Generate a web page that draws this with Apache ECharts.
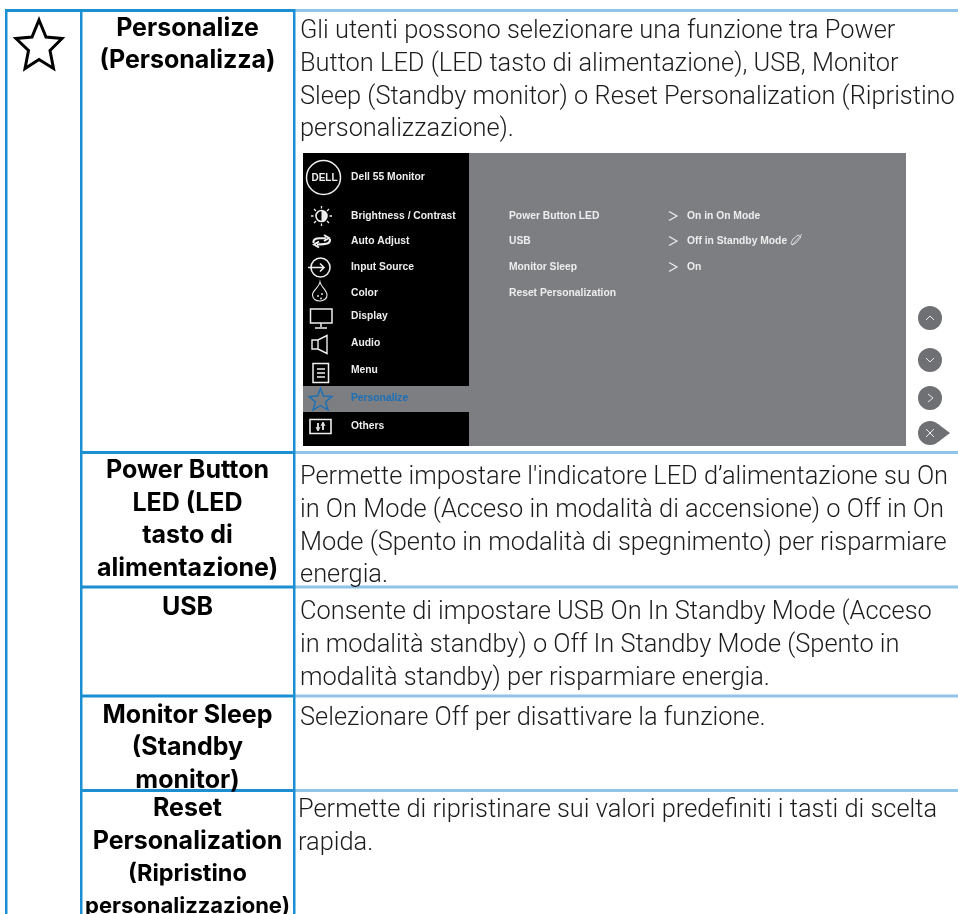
<!DOCTYPE html>
<html><head><meta charset="utf-8"><style>html,body{margin:0;padding:0;background:#fff}#c{width:958px;height:914px}</style>
<script src="https://cdn.jsdelivr.net/npm/echarts@6/dist/echarts.min.js"></script></head>
<body><div id="c"></div>
<script>
const headLabels = [
 ['Personalize','(Personalizza)'],
 ['Power Button','LED (LED','tasto di','alimentazione)'],
 ['USB'],
 ['Monitor Sleep','(Standby','monitor)'],
 ['Reset','Personalization','(Ripristino','personalizzazione)']
];
const headTops = [28,470.5,607,715,808.5];
const bodyLines = [
 ['Gli utenti possono selezionare una funzione tra Power','Button LED (LED tasto di alimentazione), USB, Monitor','Sleep (Standby monitor) o Reset Personalization (Ripristino','personalizzazione).'],
 ["Permette impostare l'indicatore LED d’alimentazione su On",'in On Mode (Acceso in modalità di accensione) o Off in On','Mode (Spento in modalità di spegnimento) per risparmiare','energia.'],
 ['Consente di impostare USB On In Standby Mode (Acceso','in modalità standby) o Off In Standby Mode (Spento in','modalità standby) per risparmiare energia.'],
 ['Selezionare Off per disattivare la funzione.'],
 ['Permette di ripristinare sui valori predefiniti i tasti di scelta','rapida.']
];
const bodyTops = [32,478,613,719,811];
const rowLines = [452.5,587,696,790.5];
const menuLabels = ['Dell 55 Monitor','Brightness / Contrast','Auto Adjust','Input Source','Color','Display','Audio','Menu','Personalize','Others'];
const menuY = [177,216,241,267,293,316,343,370,398,426];
const subLabels = ['Power Button LED','USB','Monitor Sleep','Reset Personalization'];
const subY = [216,241,267,293];
const subValues = ['On in On Mode','Off in Standby Mode','On'];

const BLUE='#1b8fd2', LIGHT='#8fc4e8', W='#eeeeee';
const g=[];
const rect=(x,y,w,h,fill)=>g.push({type:'rect',shape:{x,y,width:w,height:h},style:{fill}});
const text=(x,y,t,font,fill,align)=>g.push({type:'text',x,y,style:{text:t,font,fill,align:align||'left',verticalAlign:'middle'}});
const path=(d,stroke,lw,fill)=>g.push({type:'path',shape:{pathData:d},style:{stroke,lineWidth:lw,fill:fill||'none',lineJoin:'miter'}});
const circle=(cx,cy,r,fill,stroke,lw)=>g.push({type:'circle',shape:{cx,cy,r},style:{fill:fill||'none',stroke:stroke||'none',lineWidth:lw||0}});

// table grid
rowLines.forEach(y=>{rect(294,y-1.5,664,3,LIGHT);rect(81,y-1.5,213,3,BLUE);});
rect(5,9,954,3,LIGHT);
rect(5,9,290,3,BLUE);
rect(5,9,2.5,905,BLUE);
rect(80,9,2.5,905,BLUE);
rect(293,9,2.5,905,BLUE);

// big star
path('M39 20 L46 37 L62 38.5 L50 50.5 L53.5 68.5 L39 59.5 L25 68.5 L28.5 50.5 L16 38.5 L32 37 Z','#000',3);

const headFont=(i,j)=>(i==4&&j==3)?'700 22px Inter':(i==4&&j==2)?'700 23.5px Inter':'700 25px Inter';
headLabels.forEach((ls,i)=>ls.forEach((t,j)=>text(187.5,headTops[i]+j*32.6,t,headFont(i,j),'#000','center')));
bodyLines.forEach((ls,i)=>ls.forEach((t,j)=>text(i==4?298:300,bodyTops[i]+j*32.6,t,'300 25.4px Roboto','#1c1c1c')));

// OSD
rect(303,153,166,293,'#000');
rect(469,153,437,293,'#7d7e82');
rect(303,386,166,26,'#7d7e82');
circle(323.5,177.5,17,null,W,1.5);
text(324.5,178,'DELL','bold 10px "Liberation Sans"',W,'center');
const F='bold 10.3px "Liberation Sans"';
menuLabels.forEach((t,i)=>text(351,menuY[i],t,F,i==8?'#1a70b8':W));
subLabels.forEach((t,i)=>text(509,subY[i],t,F,W));
subValues.forEach((t,i)=>{text(687,subY[i],t,F,W);path(`M669 ${subY[i]-4.5} L677 ${subY[i]} L669 ${subY[i]+4.5}`,W,1.2);});
// pencil
path('M791 243 L793 239 L798 235 L801 237 L796 243 L792 245 Z M792 245 L802 234',W,0.8);
// menu icons
circle(321.5,216,5.5,null,W,1.6);
path('M321.5 210.5 A5.5 5.5 0 0 1 321.5 221.5 Z',W,0,W);
path('M321.5 206 V208.5 M321.5 223.5 V226 M311 216 H313.5 M329.5 216 H332 M314 209 L316 211 M327 221 L329 223 M329 209 L327 211 M316 221 L314 223',W,1.3);
path('M313.5 243 C313 239 315 238 326 238 M324 235 L329 238 L324 241 M330 239 C330.5 243 328 244.5 317 244.5 M319 241.5 L314 244.5 L319 247.5',W,2);
circle(320.5,267.5,9.5,null,W,1.6);
path('M308 267.5 H323 M320 263.5 L324 267.5 L320 271.5',W,1.6);
path('M320 282 C321 287 327 290 327 295 C327.5 302 313 304 312.5 295 C312.5 290 319 288 320 282 Z',W,1.1);
circle(318,296,0.9,W);circle(322,294,0.9,W);circle(321,298.5,0.9,W);
path('M310.5 309 H332 V323 H310.5 Z',W,1.5);
path('M321 323 V327 M315 328 H327',W,1.5);
path('M312 340 H318 L327 335.5 V353.5 L318 349 H312 Z M318 340 V349',W,1.4);
path('M313 363.5 H328.5 V382.5 H313 Z M317 369 H325 M317 373 H325 M317 377 H325',W,1.5);
path('M320.5 388.5 L323.5 396 L332 396.5 L325.5 402 L328 410 L320.5 405.5 L313 410 L315.5 402 L309 396.5 L317.5 396 Z','#1a70b8',1.4);
path('M310 419.5 H331 V433.5 H310 Z',W,1.6);
path('M318 423 V430 M323 423 V430',W,1.8);
path('M316 427 L318 431 L320 427 M321 426 L323 422 L325 426',W,1);
// buttons
const btnY=[318,360,398,433];
btnY.forEach(y=>circle(930,y,12,'#6f7073'));
path('M938 424 L950 433 L938 442 Z','#6f7073',0,'#6f7073');
path('M926 320 L930 316 L934 320',W,1);
path('M926 358 L930 362 L934 358',W,1);
path('M928 394 L933 398 L928 402',W,1);
path('M926 429 L934 437 M934 429 L926 437',W,1);

const chart=echarts.init(document.getElementById('c'),null,{renderer:'canvas',width:958,height:914});
chart.setOption({animation:false,series:[{type:'custom',coordinateSystem:'none',silent:true,data:[[0]],clip:false,renderItem:()=>({type:'group',children:g})}]});
</script></body></html>
